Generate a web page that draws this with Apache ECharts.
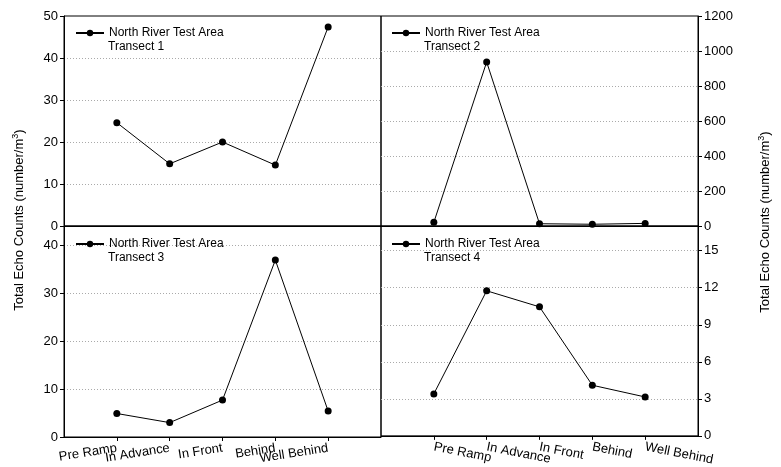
<!DOCTYPE html>
<html>
<head>
<meta charset="utf-8">
<script src="https://cdn.jsdelivr.net/npm/echarts@6/dist/echarts.min.js"></script>
<style>
html,body{margin:0;padding:0;background:#fff;}
#chart{width:781px;height:467px;}
</style>
</head>
<body>
<div id="chart"></div>
<script>
const categories = ['Pre Ramp', 'In Advance', 'In Front', 'Behind', 'Well Behind'];
const transect1 = [24.6, 14.8, 20.0, 14.5, 47.4];
const transect2 = [21, 937, 13, 10, 15];
const transect3 = [4.9, 3.0, 7.7, 36.9, 5.4];
const transect4 = [3.4, 11.75, 10.45, 4.1, 3.15];
const seriesName = 'North River Test Area';
const transectLabels = ['Transect 1', 'Transect 2', 'Transect 3', 'Transect 4'];
const yTitle = 'Total Echo Counts (number/m';

const FONT = 'Liberation Sans, Arial, sans-serif';
const padCats = [''].concat(categories, ['']);
const pad = arr => [null].concat(arr, [null]);

const grids = [
  {left: 64, top: 16, width: 317, height: 210},
  {left: 381, top: 16, width: 317, height: 210},
  {left: 64, top: 226, width: 317, height: 211},
  {left: 381, top: 226, width: 317, height: 211}
].map(g => Object.assign({show: true, borderColor: '#000', borderWidth: 1, backgroundColor: 'transparent'}, g));

function xAxis(i, showLabels, rotate) {
  return {
    type: 'category', gridIndex: i, data: padCats, boundaryGap: false,
    axisLine: {show: true, lineStyle: {color: '#000', width: 1}},
    axisTick: {show: showLabels, inside: false, length: 4, interval: idx => idx >= 1 && idx <= 5, lineStyle: {color: '#000'}},
    axisLabel: {show: showLabels, interval: 0, rotate: rotate, margin: 11, color: '#000', fontSize: 13, fontFamily: FONT},
    splitLine: {show: false}
  };
}
function yAxis(i, pos, max, interval) {
  return {
    type: 'value', gridIndex: i, position: pos, min: 0, max: max, interval: interval,
    axisLine: {show: true, lineStyle: {color: '#000', width: 1}},
    axisTick: {show: true, inside: false, length: 4, lineStyle: {color: '#000'}},
    axisLabel: {color: '#000', fontSize: 13, fontFamily: FONT, margin: 6,
      showMaxLabel: (max % interval === 0), formatter: v => String(v)},
    splitLine: {show: true, showMinLine: false, showMaxLine: false, lineStyle: {color: '#aaa', type: [1, 2], width: 1}}
  };
}

const data = [transect1, transect2, transect3, transect4];
const series = data.map((d, i) => ({
  name: seriesName, type: 'line', xAxisIndex: i, yAxisIndex: i,
  data: pad(d), connectNulls: false,
  symbol: 'circle', symbolSize: 7,
  lineStyle: {color: '#000', width: 1},
  itemStyle: {color: '#000'},
  emphasis: {disabled: true},
  animation: false
}));

const legendPos = [[75, 27], [391, 27], [75, 238], [391, 238]];
const legends = legendPos.map((p, i) => ({
  left: p[0], top: p[1], padding: 0, itemWidth: 28, itemHeight: 8, itemGap: 0,
  data: [seriesName], selectedMode: false,
  textStyle: {color: '#000', fontSize: 12, fontFamily: FONT}
}));

const graphics = legendPos.map((p, i) => ({
  type: 'text', left: p[0] + 33, top: p[1] + 14,
  style: {text: transectLabels[i], fill: '#000', font: '12px ' + FONT}
}));

const richTitle = {
  a: {fontSize: 13, fontFamily: FONT, color: '#000', lineHeight: 16},
  s: {fontSize: 9, fontFamily: FONT, color: '#000', verticalAlign: 'top', lineHeight: 16, padding: [0, 0, 6, 0]}
};
function titleText(x, y) {
  return {
    type: 'text', x: x, y: y, rotation: Math.PI / 2,
    style: {
      text: '{a|' + yTitle + '}{s|3}{a|)}',
      rich: richTitle, align: 'center', verticalAlign: 'middle'
    }
  };
}
graphics.push(titleText(19, 220));
graphics.push(titleText(765, 222));

const chart = echarts.init(document.getElementById('chart'), null, {renderer: 'canvas'});
chart.setOption({
  animation: false,
  backgroundColor: '#fff',
  grid: grids,
  xAxis: [xAxis(0, false, 0), xAxis(1, false, 0), xAxis(2, true, 9), xAxis(3, true, -11)],
  yAxis: [yAxis(0, 'left', 50, 10), yAxis(1, 'right', 1200, 200), yAxis(2, 'left', 44, 10), yAxis(3, 'right', 17, 3)],
  legend: legends,
  series: series,
  graphic: graphics,
  tooltip: {show: false}
});
</script>
</body>
</html>
